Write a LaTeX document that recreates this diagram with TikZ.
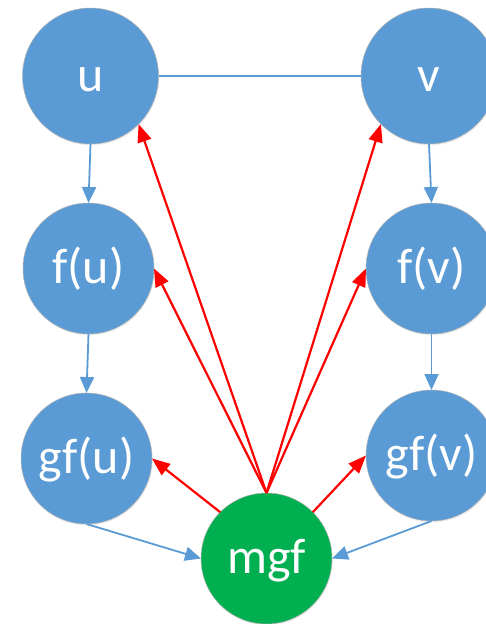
\documentclass[tikz,border=0pt]{standalone}
\usepackage{fontspec}
\setmainfont{Carlito}
\usetikzlibrary{arrows.meta,shadows}
\definecolor{nodeblue}{HTML}{5B9BD5}
\definecolor{nodegreen}{HTML}{00B050}
\definecolor{edgeblue}{HTML}{5B9BD5}
\tikzset{
  ball/.style={circle, fill=nodeblue, draw=black!30, line width=0.5pt, inner sep=0pt, outer sep=0pt,
    text=white, font=\fontsize{50}{50}\selectfont, text height=30pt, text depth=0pt,
    drop shadow={shadow xshift=0.8pt, shadow yshift=-1.5pt, opacity=0.12}},
  bigball/.style={ball, minimum size=136pt},
  smallball/.style={ball, minimum size=131pt},
  greenball/.style={smallball, fill=nodegreen},
  bluearr/.style={draw=edgeblue, line width=1.8pt, -{Triangle[length=16pt,width=14pt]}},
  bluelink/.style={draw=edgeblue, line width=1.6pt},
  redarr/.style={draw=red, line width=2.2pt, -{Triangle[length=18pt,width=14pt]}}
}
\begin{document}
\begin{tikzpicture}[x=1pt,y=-1pt]
\useasboundingbox (0,0) rectangle (485,624);
\node[bigball] (u) at (90.5,76) {u};
\node[bigball] (v) at (429,76) {v};
\node[smallball] (fu) at (88.5,268.5) {f(u)};
\node[smallball] (fv) at (431.5,268.5) {f(v)};
\node[smallball] (gfu) at (86.5,458.5) {gf(u)};
\node[smallball] (gfv) at (431.5,455.5) {gf(v)};
\node[greenball] (mgf) at (266.5,558.5) {mgf};
\draw[bluelink] (u.east) -- (v.west);
\draw[bluearr] (u.south) -- (fu.north);
\draw[bluearr] (fu.south) -- (gfu.north);
\draw[bluearr] (v.south) -- (fv.north);
\draw[bluearr] (fv.south) -- (gfv.north);
\draw[bluearr] (gfu.south) -- (mgf.west);
\draw[bluearr] (gfv.south) -- (mgf.east);
\draw[redarr] (mgf.north) -- (u.south east);
\draw[redarr] (mgf.north) -- (v.south west);
\draw[redarr] (mgf.north) -- (fu.east);
\draw[redarr] (mgf.north) -- (fv.west);
\draw[redarr] (mgf.north west) -- (gfu.east);
\draw[redarr] (mgf.north east) -- (gfv.west);
\end{tikzpicture}
\end{document}
